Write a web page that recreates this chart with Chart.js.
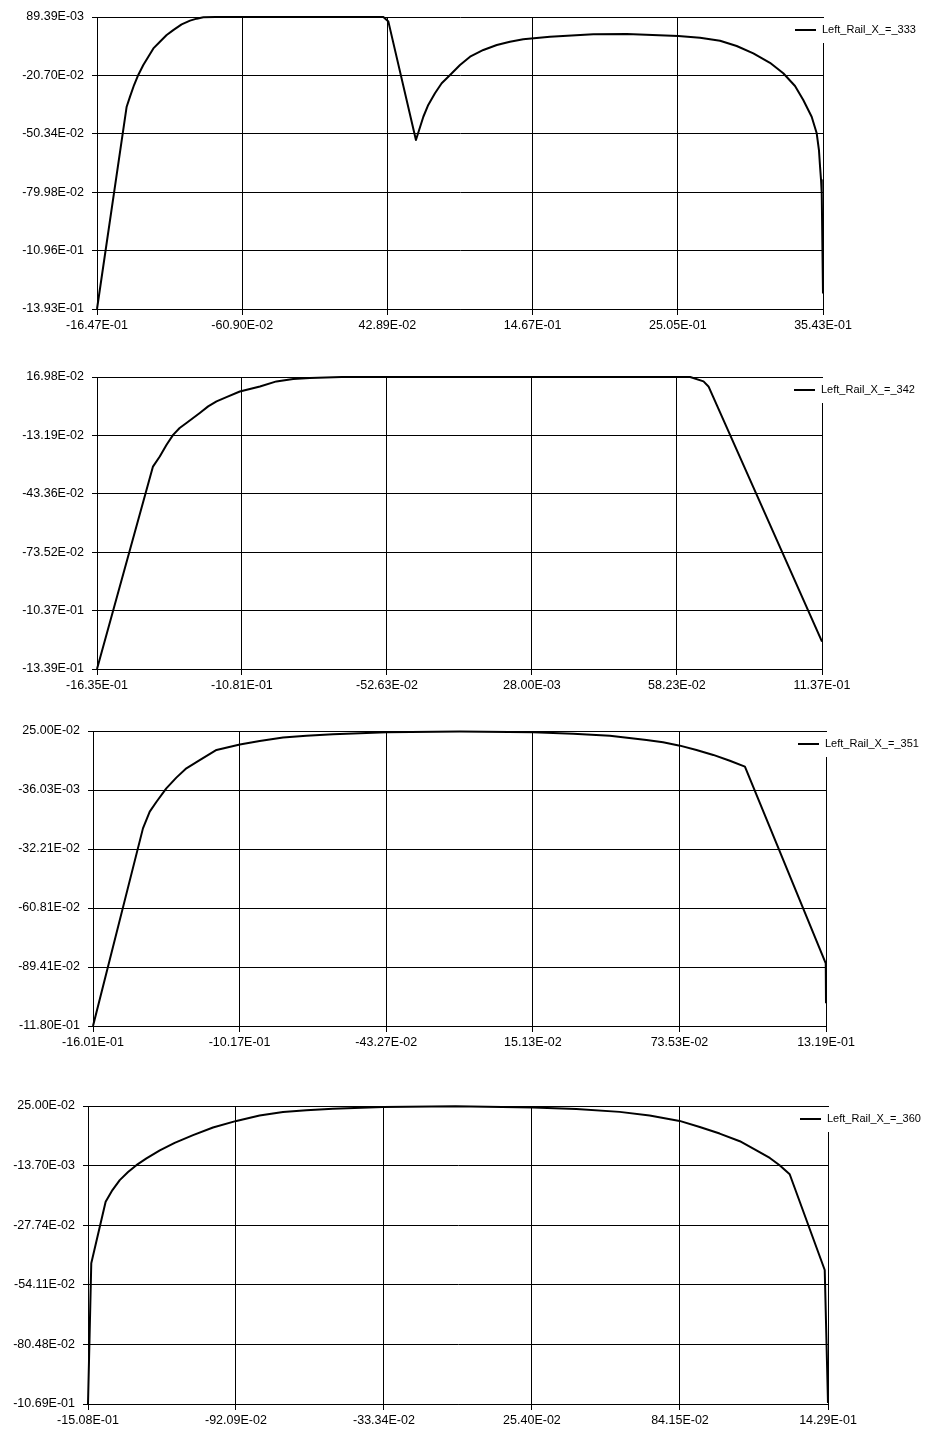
<!DOCTYPE html>
<html>
<head>
<meta charset="utf-8">
<script src="https://cdn.jsdelivr.net/npm/chart.js@4.4.1/dist/chart.umd.min.js"></script>
<style>
    body { margin: 0; background: #fff; width: 925px; height: 1431px; position: relative; overflow: hidden; }
    canvas { position: absolute; left: 0; }
</style>
</head>
<body>
<canvas id="c1" width="925" height="340" style="top:0px"></canvas>
<canvas id="c2" width="925" height="340" style="top:360px"></canvas>
<canvas id="c3" width="925" height="340" style="top:714px"></canvas>
<canvas id="c4" width="925" height="342" style="top:1089px"></canvas>
<script>
// ---- data ----
var labels1 = 'Left_Rail_X_=_333';
var xTicks1 = ['-16.47E-01', '-60.90E-02', '42.89E-02', '14.67E-01', '25.05E-01', '35.43E-01'];
var yTicks1 = ['89.39E-03', '-20.70E-02', '-50.34E-02', '-79.98E-02', '-10.96E-01', '-13.93E-01'];
var x1 = [-1.647, -1.435, -1.411, -1.382, -1.352, -1.316, -1.280, -1.244, -1.197, -1.149, -1.102, -1.042, -0.982, -0.934, -0.887, -0.800,
          0.400, 0.436, 0.633, 0.686, 0.721, 0.769, 0.817, 0.877, 0.948, 1.020, 1.115, 1.211, 1.305, 1.400, 1.591, 1.901, 2.140, 2.508,
          2.664, 2.807, 2.926, 3.045, 3.164, 3.259, 3.343, 3.402, 3.462, 3.498, 3.514, 3.522, 3.529, 3.534, 3.543];
var y1 = [-1.393, -0.366, -0.315, -0.256, -0.205, -0.154, -0.112, -0.070, -0.036, -0.002, 0.023, 0.052, 0.071, 0.081, 0.088, 0.0894,
          0.0894, 0.066, -0.535, -0.417, -0.357, -0.298, -0.247, -0.205, -0.154, -0.112, -0.078, -0.053, -0.036, -0.024, -0.011, 0.0015, 0.003, -0.007,
          -0.016, -0.031, -0.058, -0.095, -0.143, -0.196, -0.261, -0.332, -0.417, -0.501, -0.586, -0.671, -0.738, -0.806, -1.314];

var labels2 = 'Left_Rail_X_=_342';
var xTicks2 = ['-16.35E-01', '-10.81E-01', '-52.63E-02', '28.00E-03', '58.23E-02', '11.37E-01'];
var yTicks2 = ['16.98E-02', '-13.19E-02', '-43.36E-02', '-73.52E-02', '-10.37E-01', '-13.39E-01'];
var x2 = [-1.635, -1.421, -1.395, -1.369, -1.344, -1.319, -1.293, -1.242, -1.210, -1.178, -1.140, -1.089, -1.012, -0.949, -0.885, -0.821, -0.700,
          0.633, 0.684, 0.703, 1.137];
var y2 = [-1.339, -0.293, -0.241, -0.180, -0.129, -0.094, -0.068, -0.016, 0.018, 0.044, 0.066, 0.095, 0.121, 0.147, 0.159, 0.165, 0.1698,
          0.1698, 0.147, 0.121, -1.198];

var labels3 = 'Left_Rail_X_=_351';
var xTicks3 = ['-16.01E-01', '-10.17E-01', '-43.27E-02', '15.13E-02', '73.53E-02', '13.19E-01'];
var yTicks3 = ['25.00E-02', '-36.03E-03', '-32.21E-02', '-60.81E-02', '-89.41E-02', '-11.80E-01'];
var x3 = [-1.601, -1.402, -1.375, -1.348, -1.309, -1.269, -1.229, -1.176, -1.109, -1.016, -0.937, -0.844, -0.751, -0.645, -0.432, -0.140,
          0.152, 0.312, 0.458, 0.604, 0.670, 0.737, 0.803, 0.870, 0.936, 0.996, 1.318, 1.319];
var y3 = [-1.180, -0.222, -0.141, -0.093, -0.028, 0.024, 0.069, 0.109, 0.158, 0.185, 0.202, 0.218, 0.227, 0.234, 0.244, 0.247,
          0.244, 0.237, 0.227, 0.206, 0.195, 0.179, 0.158, 0.134, 0.106, 0.077, -0.876, -1.070];

var labels4 = 'Left_Rail_X_=_360';
var xTicks4 = ['-15.08E-01', '-92.09E-02', '-33.34E-02', '25.40E-02', '84.15E-02', '14.29E-01'];
var yTicks4 = ['25.00E-02', '-13.70E-03', '-27.74E-02', '-54.11E-02', '-80.48E-02', '-10.69E-01'];
var x4 = [-1.508, -1.495, -1.438, -1.411, -1.382, -1.349, -1.316, -1.276, -1.223, -1.164, -1.091, -1.012, -0.919, -0.827, -0.734, -0.641, -0.536, -0.337, -0.050,
          0.258, 0.430, 0.602, 0.721, 0.840, 0.920, 0.999, 1.079, 1.145, 1.198, 1.237, 1.277, 1.416, 1.429];
var y4 = [-1.069, -0.446, -0.174, -0.122, -0.078, -0.042, -0.012, 0.018, 0.054, 0.087, 0.121, 0.155, 0.184, 0.208, 0.223, 0.231, 0.238, 0.246, 0.249,
          0.243, 0.237, 0.224, 0.208, 0.184, 0.157, 0.128, 0.094, 0.054, 0.020, -0.012, -0.052, -0.476, -1.065];

// legend box drawn inside the top-right corner, over the right grid line
var railLegend = {
    id: 'railLegend',
    afterDraw: function (chart) {
        var ctx = chart.ctx;
        var a = chart.chartArea;
        var ds = chart.data.datasets[0];
        ctx.save();
        ctx.fillStyle = '#fff';
        ctx.fillRect(a.right - 33, a.top + 1, 140, 25);
        ctx.strokeStyle = '#000';
        ctx.lineWidth = 2;
        ctx.beginPath();
        ctx.moveTo(a.right - 28, a.top + 13);
        ctx.lineTo(a.right - 7, a.top + 13);
        ctx.stroke();
        ctx.fillStyle = '#000';
        ctx.font = '11px "Liberation Sans", Arial, sans-serif';
        ctx.textBaseline = 'middle';
        ctx.fillText(ds.label, a.right - 1, a.top + 13);
        ctx.restore();
    }
};

var makeChart = function (id, name, xs, ys, xTicks, yTicks, box) {
    var xVals = xTicks.map(Number);
    var yVals = yTicks.map(Number);
    var points = xs.map(function (x, i) { return { x: x, y: ys[i] }; });
    var font = { family: '"Liberation Sans", Arial, sans-serif', size: 12.5 };

    return new Chart(document.getElementById(id).getContext('2d'), {
        type: 'line',
        data: {
            datasets: [{
                label: name,
                data: points,
                borderColor: '#000',
                borderWidth: 2,
                borderJoinStyle: 'round',
                pointRadius: 0,
                tension: 0,
                clip: 4,
                fill: false
            }]
        },
        options: {
            responsive: false,
            animation: false,
            layout: { padding: { left: 0, right: 925 - box.right, top: box.top, bottom: 0 } },
            plugins: { legend: { display: false }, tooltip: { enabled: false } },
            scales: {
                x: {
                    type: 'linear',
                    min: xVals[0],
                    max: xVals[xVals.length - 1],
                    afterBuildTicks: function (scale) {
                        scale.ticks = xVals.map(function (v) { return { value: v }; });
                    },
                    afterFit: function (scale) { scale.height = box.h - box.bottom; },
                    grid: { color: '#000', lineWidth: 1, tickLength: 6 },
                    border: { color: '#000' },
                    ticks: {
                        color: '#000', font: font, padding: 3, maxRotation: 0, autoSkip: false,
                        callback: function (v, i) { return xTicks[i]; }
                    }
                },
                y: {
                    type: 'linear',
                    min: yVals[yVals.length - 1],
                    max: yVals[0],
                    afterBuildTicks: function (scale) {
                        scale.ticks = yVals.slice().reverse().map(function (v) { return { value: v }; });
                    },
                    afterFit: function (scale) { scale.width = box.left; },
                    grid: { color: '#000', lineWidth: 1, tickLength: 5 },
                    border: { color: '#000' },
                    ticks: {
                        color: '#000', font: font, padding: 8, autoSkip: false,
                        callback: function (v, i) { return yTicks[yTicks.length - 1 - i]; }
                    }
                }
            }
        },
        plugins: [railLegend]
    });
};

makeChart('c1', labels1, x1, y1, xTicks1, yTicks1, { left: 97, right: 823, top: 17, bottom: 309, h: 340 });
makeChart('c2', labels2, x2, y2, xTicks2, yTicks2, { left: 97, right: 822, top: 17, bottom: 309, h: 340 });
makeChart('c3', labels3, x3, y3, xTicks3, yTicks3, { left: 93, right: 826, top: 17, bottom: 312, h: 340 });
makeChart('c4', labels4, x4, y4, xTicks4, yTicks4, { left: 88, right: 828, top: 17, bottom: 315, h: 342 });
</script>
</body>
</html>
